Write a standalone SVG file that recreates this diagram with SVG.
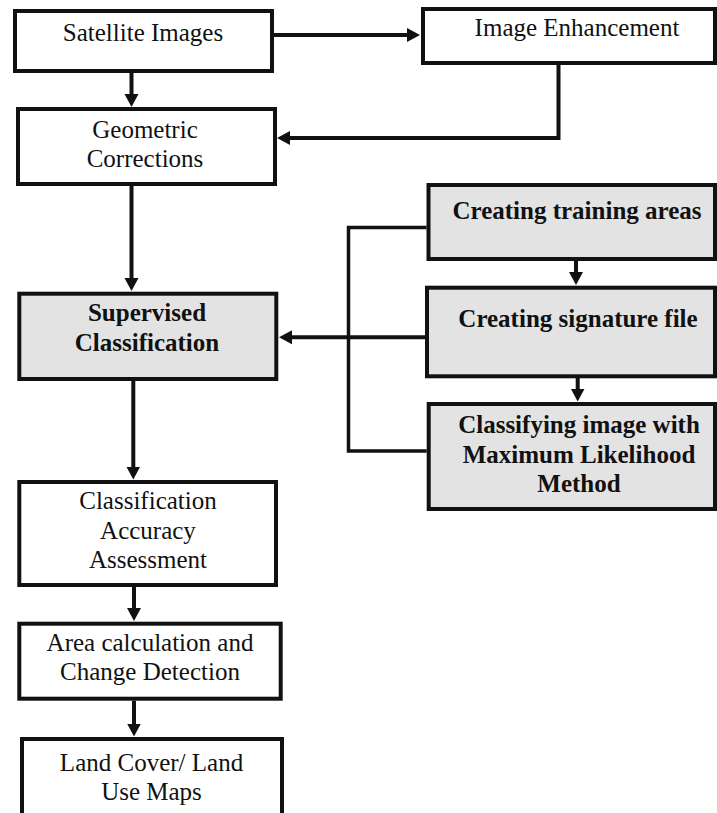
<svg xmlns="http://www.w3.org/2000/svg" width="717" height="813" viewBox="0 0 717 813">
<defs>
<style>
.box{fill:#ffffff;stroke:#111;stroke-width:4}
.gray{fill:#e3e3e3;stroke:#111;stroke-width:4}
.t{font-size:25px;fill:#111;text-anchor:middle}
.b{font-weight:bold}
.c{fill:none;stroke:#111;stroke-width:4}
.k{fill:none;stroke:#111;stroke-width:3.5}
</style>
<marker id="ah" markerUnits="userSpaceOnUse" markerWidth="15" markerHeight="15" refX="7" refY="7" orient="auto">
<path d="M0,0 L13,7 L0,14 Z" fill="#111"/>
</marker>
</defs>
<rect width="717" height="813" fill="#ffffff"/>
<g id="connectors">
<line class="c" x1="274" y1="35" x2="414" y2="35" marker-end="url(#ah)"/>
<line class="c" x1="131.5" y1="73" x2="131.5" y2="101" marker-end="url(#ah)"/>
<path class="c" d="M558.5,65 L558.5,138 L283,138" marker-end="url(#ah)"/>
<line class="c" x1="131.5" y1="186" x2="131.5" y2="285" marker-end="url(#ah)"/>
<line class="c" x1="576" y1="261" x2="576" y2="279" marker-end="url(#ah)"/>
<line class="c" x1="577.7" y1="378" x2="577.7" y2="395.5" marker-end="url(#ah)"/>
<line class="c" x1="425" y1="337.3" x2="285" y2="337.3" marker-end="url(#ah)"/>
<path class="k" d="M426.5,227.5 L348.5,227.5 L348.5,451 L426.7,451"/>
<line class="c" x1="133.3" y1="381" x2="133.3" y2="473.5" marker-end="url(#ah)"/>
<line class="c" x1="134" y1="587" x2="134" y2="615" marker-end="url(#ah)"/>
<line class="c" x1="134" y1="700.7" x2="134" y2="730.5" marker-end="url(#ah)"/>
</g>
<g font-family="Liberation Serif, Times New Roman, serif">
<g id="satellite-images">
<rect class="box" x="15" y="11" width="257" height="60"/>
<text class="t" x="143" y="41">Satellite Images</text>
</g>
<g id="image-enhancement">
<rect class="box" x="423" y="9" width="292" height="54"/>
<text class="t" x="577" y="36">Image Enhancement</text>
</g>
<g id="geometric-corrections">
<rect class="box" x="18" y="109" width="257" height="75"/>
<text class="t" x="145" y="138">Geometric</text>
<text class="t" x="145" y="167">Corrections</text>
</g>
<g id="creating-training-areas">
<rect class="gray" x="428.5" y="185" width="286.5" height="74"/>
<text class="t b" x="577" y="219">Creating training areas</text>
</g>
<g id="creating-signature-file">
<rect class="gray" x="427" y="287.7" width="288" height="88.6"/>
<text class="t b" x="578" y="327">Creating signature file</text>
</g>
<g id="classifying-image">
<rect class="gray" x="428.7" y="404" width="286.3" height="105"/>
<text class="t b" x="579" y="433">Classifying image with</text>
<text class="t b" x="579" y="462.5">Maximum Likelihood</text>
<text class="t b" x="579" y="491.5">Method</text>
</g>
<g id="supervised-classification">
<rect class="gray" x="19.3" y="293.7" width="257" height="85.3"/>
<text class="t b" x="147" y="320.7">Supervised</text>
<text class="t b" x="147" y="350.7">Classification</text>
</g>
<g id="classification-accuracy-assessment">
<rect class="box" x="19.3" y="482" width="256.7" height="103"/>
<text class="t" x="148" y="509">Classification</text>
<text class="t" x="148" y="539">Accuracy</text>
<text class="t" x="148" y="568">Assessment</text>
</g>
<g id="area-calculation">
<rect class="box" x="19.3" y="623.7" width="261.4" height="75"/>
<text class="t" x="150" y="651">Area calculation and</text>
<text class="t" x="150" y="680">Change Detection</text>
</g>
<g id="land-cover-maps">
<rect class="box" x="22" y="739" width="260" height="90"/>
<text class="t" x="151.5" y="771">Land Cover/ Land</text>
<text class="t" x="151.5" y="800">Use Maps</text>
</g>
</g>
</svg>
